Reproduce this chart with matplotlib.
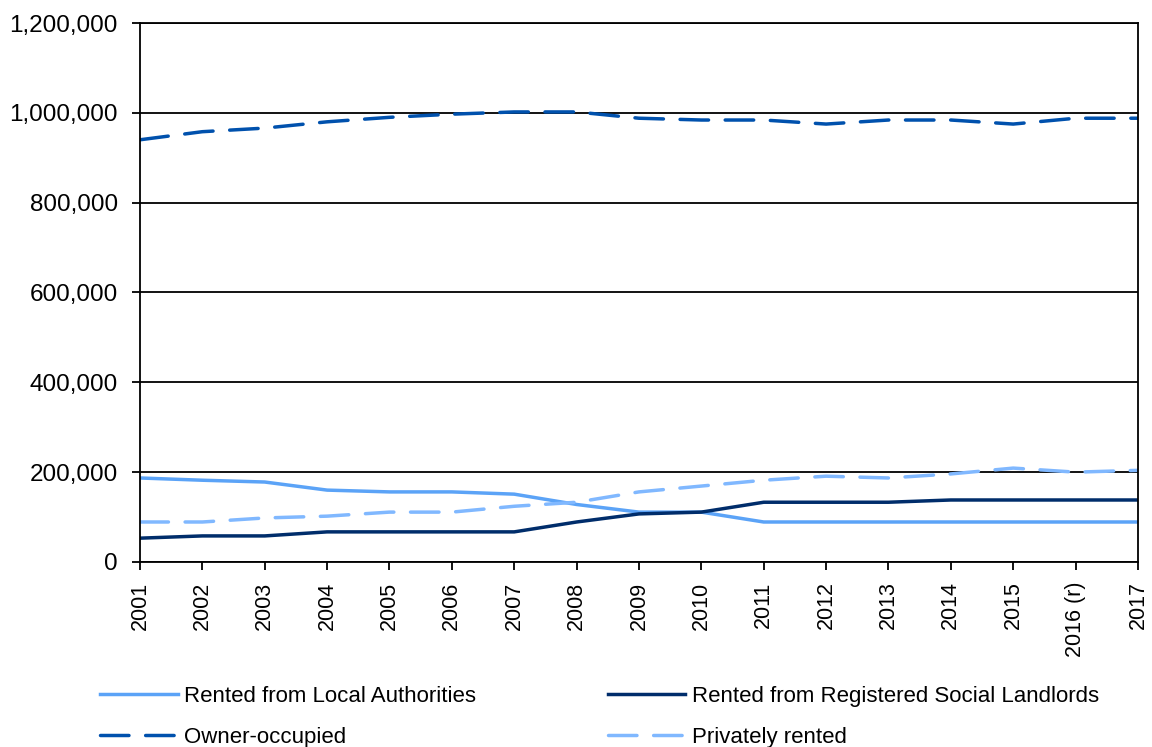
import matplotlib
matplotlib.use('Agg')
import matplotlib.pyplot as plt
from matplotlib.ticker import FuncFormatter

plt.rcParams['font.family'] = ['Liberation Sans', 'DejaVu Sans']

years = ['2001', '2002', '2003', '2004', '2005', '2006', '2007', '2008', '2009',
         '2010', '2011', '2012', '2013', '2014', '2015', '2016 (r)', '2017']

local_auth = [187000, 182000, 178000, 160000, 156000, 156000, 151000, 128000, 111000,
              111000, 89000, 89000, 89000, 89000, 89000, 89000, 89000]
rsl = [53000, 58000, 58000, 67000, 67000, 67000, 67000, 89000, 107000,
       111000, 133000, 133000, 133000, 138000, 138000, 138000, 138000]
owner = [940000, 958000, 966000, 980000, 990000, 997000, 1002000, 1002000, 988000,
         984000, 984000, 975000, 984000, 984000, 975000, 988000, 988000]
private = [89000, 89000, 98000, 102000, 111000, 111000, 124000, 133000, 156000,
           169000, 182000, 191000, 187000, 196000, 209000, 200000, 204000]

x = list(range(len(years)))

fig = plt.figure(figsize=(11.52, 7.47), dpi=100)
ax = fig.add_axes([0.1215, 0.2477, 0.8663, 0.7215])

lw = 2.5
l1, = ax.plot(x, local_auth, color='#5ba3f7', lw=lw, label='Rented from Local Authorities')
l2, = ax.plot(x, rsl, color='#002d6b', lw=lw, label='Rented from Registered Social Landlords')
l3, = ax.plot(x, owner, color='#0051ad', lw=lw, dashes=(8.2, 4.8), dash_capstyle='round',
              label='Owner-occupied')
l4, = ax.plot(x, private, color='#80b8ff', lw=lw, dashes=(8.2, 4.8), dash_capstyle='round',
              label='Privately rented')

ax.set_xlim(0, len(years) - 1)
ax.set_ylim(0, 1200000)
ax.set_yticks(range(0, 1200001, 200000))
ax.yaxis.set_major_formatter(FuncFormatter(lambda v, p: f'{int(v):,}'))
ax.set_xticks(x)
ax.set_xticklabels(years, rotation=90)
ax.grid(axis='y', color='black', lw=1.3)
ax.set_axisbelow(True)
for s in ax.spines.values():
    s.set_linewidth(1.3)
ax.tick_params(axis='both', width=1.3, length=6, direction='out')
ax.tick_params(axis='y', labelsize=17.5, pad=10)
ax.tick_params(axis='x', labelsize=15.5, pad=8)

# row-wise order: matplotlib fills legend columns first
fig.legend([l1, l3, l2, l4], [h.get_label() for h in (l1, l3, l2, l4)],
           loc='upper left', bbox_to_anchor=(0.0868, 0.0815), ncol=2, frameon=False,
           fontsize=16, handlelength=3.5, handletextpad=0.3, columnspacing=5.9,
           labelspacing=0.9, borderaxespad=0, borderpad=0)

fig.savefig('out.png', dpi=100)
